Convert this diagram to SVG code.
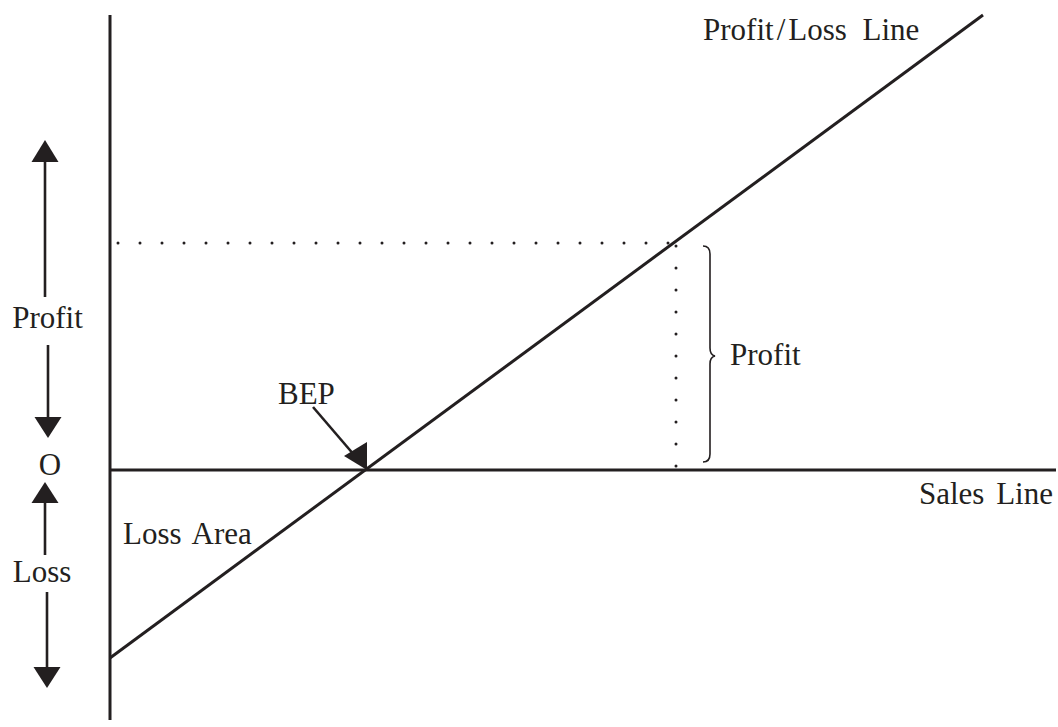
<svg xmlns="http://www.w3.org/2000/svg" width="1058" height="727" viewBox="0 0 1058 727">
<style>
.t{font-family:"Liberation Serif","Times New Roman",serif;font-size:31px;fill:#231f20}
.ax{stroke:#231f20;stroke-width:3;fill:none}
.sh{stroke:#231f20;stroke-width:2.6;fill:none}
.hd{fill:#231f20;stroke:none}
.dot{stroke:#231f20;stroke-width:3;stroke-linecap:round;stroke-dasharray:0 22;fill:none}
</style>
<rect width="1058" height="727" fill="#fff"/>
<g id="connectors">
<line class="ax" x1="110" y1="15" x2="110" y2="720"/>
<line class="ax" x1="110" y1="470" x2="1056" y2="470"/>
<line class="ax" x1="110" y1="658" x2="983" y2="15"/>
<path class="dot" d="M118,243 H677"/>
<path class="dot" d="M676,246 V468"/>
<path d="M703,246 Q710,246 710,254 L710,348 Q710,355 715,356 Q710,357 710,364 L710,454 Q710,462 703,462" fill="none" stroke="#231f20" stroke-width="1.6"/>
<line class="sh" x1="313" y1="407" x2="355" y2="456"/>
<polygon class="hd" points="367,470 344,456 367,442"/>
<line class="sh" x1="45" y1="297" x2="45" y2="158"/>
<polygon class="hd" points="45,140 31.5,162 58.5,162"/>
<line class="sh" x1="48" y1="345" x2="48" y2="419"/>
<polygon class="hd" points="48,438 34.5,417 61.5,417"/>
<line class="sh" x1="45" y1="555" x2="45" y2="501"/>
<polygon class="hd" points="45,482 31.5,503 58.5,503"/>
<line class="sh" x1="47" y1="592" x2="47" y2="669"/>
<polygon class="hd" points="47,688 33.5,667 60.5,667"/>
</g>
<g id="label-profit-loss-line"><text class="t" x="703" y="40" style="word-spacing:8px">Profit<tspan dx="3">/</tspan><tspan dx="3">Loss Line</tspan></text></g>
<g id="label-sales-line"><text class="t" x="919" y="504" style="word-spacing:4px">Sales Line</text></g>
<g id="label-loss-area"><text class="t" x="123" y="544" style="word-spacing:4px">Loss Area</text></g>
<g id="label-bep"><text class="t" x="278" y="404">BEP</text></g>
<g id="label-profit-right"><text class="t" x="730" y="365">Profit</text></g>
<g id="label-profit-left"><text class="t" x="47.5" y="328" text-anchor="middle">Profit</text></g>
<g id="label-o"><text class="t" x="50" y="475" text-anchor="middle">O</text></g>
<g id="label-loss-left"><text class="t" x="42" y="582" text-anchor="middle">Loss</text></g>
</svg>
